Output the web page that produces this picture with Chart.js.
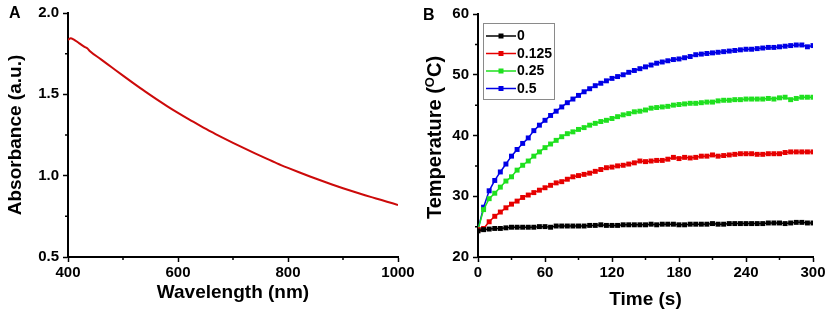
<!DOCTYPE html>
<html>
<head>
<meta charset="utf-8">
<script src="https://cdn.jsdelivr.net/npm/chart.js@4.4.1/dist/chart.umd.min.js"></script>
<style>
  html, body { margin: 0; padding: 0; background: #fff; }
  #wrap { position: relative; width: 829px; height: 315px; display: flex; }
  .panel { position: relative; height: 315px; }
  .tag { position: absolute; font: bold 16px "Liberation Sans", Arial, sans-serif; color: #000; }
</style>
</head>
<body>
<div id="wrap">
  <div class="panel" style="width:414px">
    <canvas id="absChart" width="414" height="315"></canvas>
    <div class="tag" style="left:9px; top:4px">A</div>
  </div>
  <div class="panel" style="width:415px">
    <canvas id="tempChart" width="415" height="315"></canvas>
    <div class="tag" style="left:9px; top:6px">B</div>
  </div>
</div>
<script>
// Panel A: absorbance spectrum
const wavelengths = [400, 405, 410, 420, 430, 435, 440, 460, 480, 500, 520, 540, 560, 580, 600,
  620, 640, 660, 680, 700, 720, 740, 760, 780, 800, 820, 840, 860, 880, 900, 920, 940, 960, 980, 1000];
const absorbance = [1.835, 1.845, 1.838, 1.815, 1.792, 1.783, 1.765, 1.715, 1.665, 1.615, 1.566, 1.518, 1.472, 1.428, 1.386,
  1.346, 1.308, 1.271, 1.236, 1.202, 1.169, 1.137, 1.106, 1.076, 1.048, 1.021, 0.995, 0.970, 0.946, 0.923, 0.901, 0.880, 0.860, 0.840, 0.820];
const absMinorX = [500, 700, 900];
const absMinorY = [0.75, 1.25, 1.75];

// Panel B: photothermal heating curves
const times = [0, 5, 10, 15, 20, 25, 30, 35, 40, 45, 50, 55, 60, 65, 70, 75, 80, 85, 90, 95,
  100, 105, 110, 115, 120, 125, 130, 135, 140, 145, 150, 155, 160, 165, 170, 175, 180, 185, 190, 195,
  200, 205, 210, 215, 220, 225, 230, 235, 240, 245, 250, 255, 260, 265, 270, 275, 280, 285, 290, 295, 300];
const concLabels = ['0', '0.125', '0.25', '0.5'];
const temp0 = [24.3, 24.5, 24.6, 24.7, 24.7, 24.8, 24.9, 24.9, 24.9, 24.9,
  24.9, 25.0, 25.0, 24.9, 25.1, 25.1, 25.1, 25.1, 25.1, 25.1,
  25.2, 25.2, 25.3, 25.2, 25.2, 25.2, 25.3, 25.3, 25.3, 25.3,
  25.3, 25.4, 25.3, 25.4, 25.4, 25.4, 25.3, 25.3, 25.4, 25.4,
  25.4, 25.4, 25.5, 25.4, 25.4, 25.5, 25.5, 25.5, 25.5, 25.5,
  25.5, 25.5, 25.6, 25.6, 25.6, 25.5, 25.6, 25.7, 25.7, 25.6,
  25.6];
const temp0125 = [24.5, 24.7, 25.8, 26.7, 27.4, 28.1, 28.7, 29.2, 29.8, 30.2,
  30.6, 31.0, 31.4, 31.8, 32.2, 32.4, 32.8, 33.2, 33.4, 33.6,
  33.8, 34.1, 34.4, 34.7, 34.8, 35.0, 35.1, 35.3, 35.5, 35.8,
  35.7, 35.8, 35.9, 35.9, 36.1, 36.4, 36.2, 36.4, 36.3, 36.4,
  36.6, 36.6, 36.8, 36.6, 36.7, 36.8, 36.9, 37.0, 37.0, 37.0,
  36.9, 36.9, 37.0, 37.0, 37.0, 37.2, 37.3, 37.3, 37.3, 37.3,
  37.3];
const temp025 = [24.5, 27.8, 29.6, 30.5, 31.5, 32.5, 33.2, 34.3, 35.1, 35.8,
  36.6, 37.3, 38.0, 38.6, 39.2, 39.8, 40.3, 40.6, 41.0, 41.3,
  41.7, 42.0, 42.3, 42.5, 42.8, 43.1, 43.4, 43.6, 43.9, 44.0,
  44.2, 44.5, 44.6, 44.7, 44.8, 45.0, 45.1, 45.2, 45.3, 45.3,
  45.4, 45.5, 45.5, 45.7, 45.8, 45.8, 45.9, 45.9, 46.0, 46.0,
  46.0, 46.0, 46.1, 46.0, 46.2, 46.3, 45.9, 46.1, 46.3, 46.3,
  46.3];
const temp05 = [24.5, 28.2, 30.9, 32.6, 34.0, 35.3, 36.6, 37.7, 38.7, 39.6,
  40.8, 41.7, 42.5, 43.3, 44.0, 44.7, 45.4, 46.0, 46.6, 47.2,
  47.7, 48.2, 48.6, 49.0, 49.4, 49.7, 50.0, 50.4, 50.7, 51.0,
  51.3, 51.6, 51.9, 52.1, 52.3, 52.5, 52.6, 52.8, 53.0, 53.3,
  53.4, 53.5, 53.6, 53.7, 53.8, 53.9, 54.0, 54.1, 54.2, 54.2,
  54.3, 54.4, 54.5, 54.5, 54.6, 54.7, 54.8, 54.9, 54.9, 54.6,
  54.8];
const tempMinorX = [30, 90, 150, 210, 270];
const tempMinorY = [25, 35, 45, 55];

const FONT = '"Liberation Sans", Arial, sans-serif';
const seriesColors = ['#000000', '#e60000', '#1fe01f', '#0000e6'];

function toXY(xs, ys) {
  return xs.map((x, i) => ({ x: x, y: ys[i] }));
}

// short outward ticks between the labelled ones
const minorTicks = {
  id: 'minorTicks',
  afterDraw(chart, args, opts) {
    const ctx = chart.ctx;
    const xs = chart.scales.x;
    const ys = chart.scales.y;
    ctx.save();
    ctx.strokeStyle = '#000';
    ctx.lineWidth = 1.5;
    ctx.beginPath();
    (opts.x || []).forEach(v => {
      const px = xs.getPixelForValue(v);
      ctx.moveTo(px, xs.top);
      ctx.lineTo(px, xs.top + 3);
    });
    (opts.y || []).forEach(v => {
      const py = ys.getPixelForValue(v);
      ctx.moveTo(ys.right - 3, py);
      ctx.lineTo(ys.right, py);
    });
    ctx.stroke();
    ctx.restore();
  }
};

// boxed legend inside the plot area, like the original
const boxLegend = {
  id: 'boxLegend',
  afterDraw(chart, args, opts) {
    if (!opts.show) return;
    const ctx = chart.ctx;
    const area = chart.chartArea;
    const x0 = area.left + 5;
    const y0 = area.top + 9;
    ctx.save();
    ctx.fillStyle = '#fff';
    ctx.fillRect(x0, y0, 71, 76);
    ctx.strokeStyle = '#8a8a8a';
    ctx.lineWidth = 1;
    ctx.strokeRect(x0 + 0.5, y0 + 0.5, 71, 76);
    ctx.font = 'bold 14px ' + FONT;
    ctx.textBaseline = 'middle';
    chart.data.datasets.forEach((ds, i) => {
      const yy = y0 + 13 + i * 17.5;
      ctx.strokeStyle = ds.borderColor;
      ctx.lineWidth = 1.5;
      ctx.beginPath();
      ctx.moveTo(x0 + 3, yy);
      ctx.lineTo(x0 + 33, yy);
      ctx.stroke();
      ctx.fillStyle = ds.borderColor;
      ctx.fillRect(x0 + 15.5, yy - 2.5, 5, 5);
      ctx.fillStyle = '#000';
      ctx.fillText(ds.label, x0 + 34, yy + 0.5);
    });
    ctx.restore();
  }
};

// y title with a raised "O" before the C, drawn rotated
const supTitle = {
  id: 'supTitle',
  afterDraw(chart, args, opts) {
    if (!opts.parts) return;
    const ctx = chart.ctx;
    const area = chart.chartArea;
    const [pre, sup, post] = opts.parts;
    const big = 'bold 20px ' + FONT;
    const small = 'bold 13px ' + FONT;
    ctx.save();
    ctx.font = big;
    const w1 = ctx.measureText(pre).width;
    const w3 = ctx.measureText(post).width;
    ctx.font = small;
    const w2 = ctx.measureText(sup).width;
    const total = w1 + w2 + w3;
    ctx.translate(opts.x, (area.top + area.bottom) / 2 + 2);
    ctx.rotate(-Math.PI / 2);
    ctx.fillStyle = '#000';
    ctx.textBaseline = 'middle';
    let cx = -total / 2;
    ctx.font = big;
    ctx.fillText(pre, cx, 0);
    cx += w1;
    ctx.font = small;
    ctx.fillText(sup, cx, -5);
    cx += w2;
    ctx.font = big;
    ctx.fillText(post, cx, 0);
    ctx.restore();
  }
};

function axisOptions(min, max, step, title, titlePad, isY, fmt, fit) {
  return {
    type: 'linear',
    min: min,
    max: max,
    border: { display: true, color: '#000', width: 2 },
    grid: { display: true, drawOnChartArea: false, drawTicks: true, tickLength: 5, tickColor: '#000', tickWidth: 1.5 },
    ticks: {
      stepSize: step,
      autoSkip: false,
      maxRotation: 0,
      padding: isY ? 4 : 2,
      color: '#000',
      font: { family: FONT, size: 15, weight: 'bold' },
      callback: fmt
    },
    title: {
      display: title !== '',
      text: title,
      color: '#000',
      font: { family: FONT, size: 19, weight: 'bold' },
      padding: titlePad
    },
    afterFit: fit
  };
}

new Chart(document.getElementById('absChart').getContext('2d'), {
  type: 'line',
  data: {
    datasets: [{
      label: 'Absorbance',
      data: toXY(wavelengths, absorbance),
      borderColor: '#cc0a0a',
      borderWidth: 2,
      pointRadius: 0,
      cubicInterpolationMode: 'monotone'
    }]
  },
  options: {
    responsive: false,
    animation: false,
    layout: { padding: { top: 13, right: 16, left: 0, bottom: 0 } },
    plugins: {
      legend: { display: false },
      tooltip: { enabled: false },
      minorTicks: { x: absMinorX, y: absMinorY },
      boxLegend: { show: false },
      supTitle: {}
    },
    scales: {
      x: axisOptions(400, 1000, 200, 'Wavelength (nm)', { top: 0, bottom: 11 }, false,
        v => String(v), s => { s.height = 58; s.paddingRight = 0; s.paddingLeft = 0; }),
      y: axisOptions(0.5, 2.0, 0.5, 'Absorbance (a.u.)', { top: 4, bottom: 0 }, true,
        v => v.toFixed(1), s => { s.width = 68; s.paddingTop = 0; s.paddingBottom = 0; })
    }
  },
  plugins: [minorTicks, boxLegend, supTitle]
});

const tempSeries = [temp0, temp0125, temp025, temp05];

new Chart(document.getElementById('tempChart').getContext('2d'), {
  type: 'line',
  data: {
    datasets: tempSeries.map((vals, i) => ({
      label: concLabels[i],
      data: toXY(times, vals),
      borderColor: seriesColors[i],
      backgroundColor: seriesColors[i],
      borderWidth: 1.5,
      pointStyle: 'rect',
      pointRadius: 3.5,
      pointBorderWidth: 0,
      pointBackgroundColor: seriesColors[i],
      tension: 0
    }))
  },
  options: {
    responsive: false,
    animation: false,
    layout: { padding: { top: 14, right: 16, left: 0, bottom: 0 } },
    plugins: {
      legend: { display: false },
      tooltip: { enabled: false },
      minorTicks: { x: tempMinorX, y: tempMinorY },
      boxLegend: { show: true },
      supTitle: { parts: ['Temperature (', 'O', 'C)'], x: 21 }
    },
    scales: {
      x: axisOptions(0, 300, 60, 'Time (s)', { top: 0, bottom: 4 }, false,
        v => String(v), s => { s.height = 58; s.paddingRight = 0; s.paddingLeft = 0; }),
      y: axisOptions(20, 60, 10, '', { top: 8, bottom: 0 }, true,
        v => String(v), s => { s.width = 64; s.paddingTop = 0; s.paddingBottom = 0; })
    }
  },
  plugins: [minorTicks, boxLegend, supTitle]
});
</script>
</body>
</html>
